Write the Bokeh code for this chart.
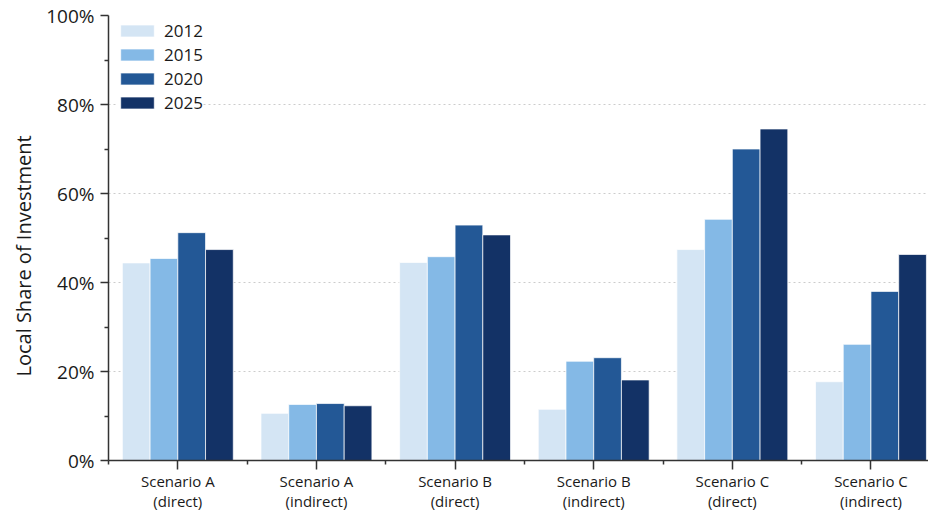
from bokeh.plotting import figure
from bokeh.models import (ColumnDataSource, FixedTicker, PrintfTickFormatter, Legend,
                          LegendItem, Range1d, Title)
from bokeh.embed import file_html
from bokeh.resources import INLINE

categories = ["Scenario A\n(direct)", "Scenario A\n(indirect)", "Scenario B\n(direct)",
              "Scenario B\n(indirect)", "Scenario C\n(direct)", "Scenario C\n(indirect)"]
years = ["2012", "2015", "2020", "2025"]
v2012 = [44.4, 10.6, 44.5, 11.5, 47.4, 17.7]
v2015 = [45.4, 12.6, 45.8, 22.3, 54.2, 26.1]
v2020 = [51.2, 12.8, 52.9, 23.1, 70.0, 38.0]
v2025 = [47.4, 12.3, 50.7, 18.1, 74.5, 46.3]
y_ticks = [0, 20, 40, 60, 80, 100]
y_title = "Local Share of Investment"

series = [v2012, v2015, v2020, v2025]
colors = ["#d4e5f4", "#84b9e6", "#235896", "#133266"]
offsets = [-0.3, -0.1, 0.1, 0.3]

FONT = "Open Sans"

p = figure(width=928, height=513, output_backend="svg", toolbar_location=None,
           x_range=Range1d(-0.5, 5.415), y_range=Range1d(0, 100),
           min_border_left=107, min_border_right=0, min_border_top=15, min_border_bottom=42)
p.outline_line_color = None
p.background_fill_color = "white"
p.border_fill_color = "white"

idx = list(range(len(categories)))
items = []
for yr, vals, col, off in zip(years, series, colors, offsets):
    src = ColumnDataSource(dict(x=[i + off for i in idx], top=vals))
    r = p.vbar(x="x", top="top", width=0.2, bottom=0, source=src, fill_color=col,
               line_color="white", line_width=1, line_alpha=0.7)
    items.append(LegendItem(label=yr, renderers=[r]))

legend = Legend(items=items, location=(8, 346), orientation="vertical",
                glyph_width=42, glyph_height=15, label_height=24, spacing=0,
                label_standoff=6, padding=0, margin=0,
                label_text_font=FONT, label_text_font_size="17px", label_text_color="#1a1a1a",
                border_line_color=None, background_fill_color="white", background_fill_alpha=1)
p.add_layout(legend, "center")

# X axis
xa = p.xaxis[0]
xa.ticker = FixedTicker(ticks=idx, minor_ticks=[i - 0.5 for i in range(len(categories) + 1)])
xa.major_label_overrides = {i: c for i, c in enumerate(categories)}
xa.major_label_text_font = FONT
xa.major_label_text_font_size = "15px"
xa.major_label_text_color = "#1a1a1a"
xa.major_label_text_line_height = 1.0
xa.major_label_standoff = 1
xa.axis_line_color = "#333333"
xa.axis_line_width = 1.5
xa.major_tick_line_color = "#333333"
xa.major_tick_line_width = 1.5
xa.major_tick_out = 9
xa.major_tick_in = 0
xa.minor_tick_line_color = "#333333"
xa.minor_tick_line_width = 1.5
xa.minor_tick_out = 4
xa.minor_tick_in = 0

# Y axis
ya = p.yaxis[0]
ya.ticker = FixedTicker(ticks=y_ticks, minor_ticks=[10, 30, 50, 70, 90])
ya.formatter = PrintfTickFormatter(format="%d%%")
ya.major_label_text_font = FONT
ya.major_label_text_font_size = "19px"
ya.major_label_text_color = "#1a1a1a"
ya.major_label_standoff = 6
ya.axis_line_color = "#333333"
ya.axis_line_width = 1.5
ya.major_tick_line_color = "#333333"
ya.major_tick_line_width = 1.5
ya.major_tick_out = 8
ya.major_tick_in = 0
ya.minor_tick_line_color = "#333333"
ya.minor_tick_line_width = 1.5
ya.minor_tick_out = 4
ya.minor_tick_in = 0

# Y title (offset downwards from frame centre as in the reference)
p.add_layout(Title(text=y_title, align="left", offset=84, standoff=14,
                   text_font=FONT, text_font_size="20px", text_font_style="normal",
                   text_color="#1a1a1a"), "left")

p.xgrid.visible = False
p.ygrid.ticker = FixedTicker(ticks=[20, 40, 60, 80])
p.ygrid.grid_line_color = "#cccccc"
p.ygrid.grid_line_dash = "2 3"
p.ygrid.grid_line_width = 1

open("out.html", "w").write(file_html(p, INLINE))
